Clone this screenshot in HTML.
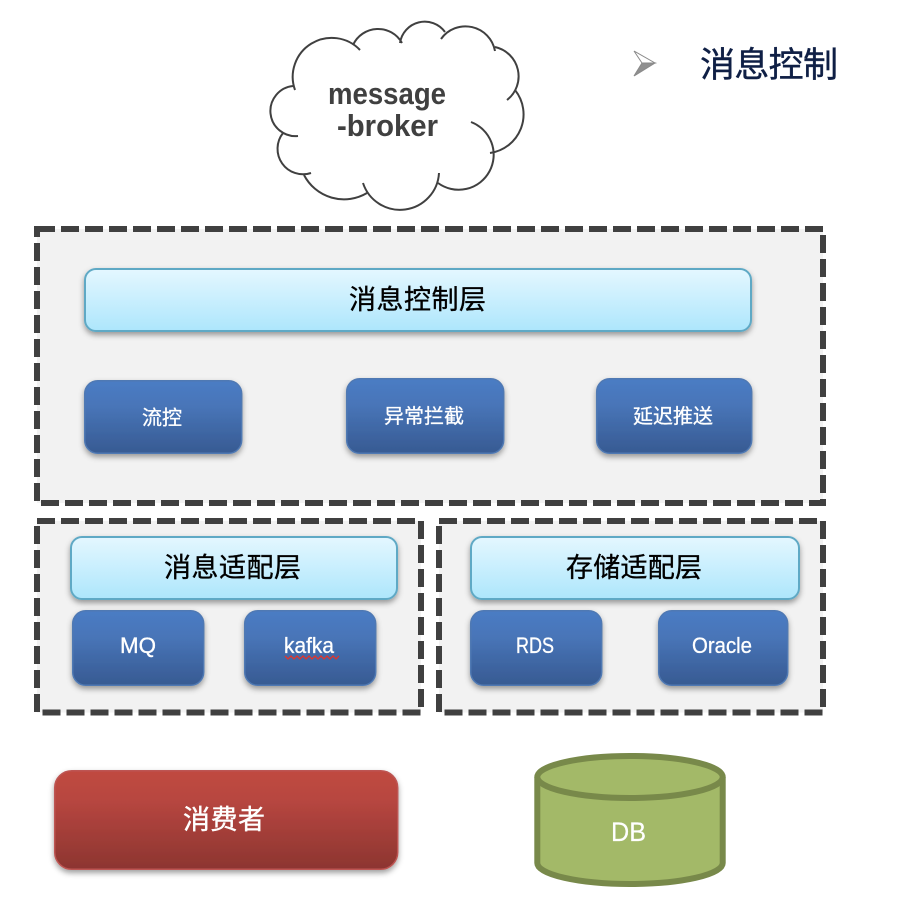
<!DOCTYPE html>
<html><head><meta charset="utf-8"><style>
html,body{margin:0;padding:0;background:#fff}
svg{display:block}
text{font-family:"Liberation Sans","Noto Sans CJK SC",sans-serif;text-anchor:start}
.k{fill:#000;stroke:#000;stroke-width:.35px;font-size:27px}
.b{fill:#fff;stroke:#fff;stroke-width:.3px;font-size:20px}
.l{fill:#fff;stroke:#fff;stroke-width:.3px;font-size:22px}
</style></head><body>
<svg width="920" height="898" viewBox="0 0 920 898" xmlns="http://www.w3.org/2000/svg">
<defs>
<linearGradient id="lb" x1="0" y1="0" x2="0" y2="1"><stop offset="0" stop-color="#e4f7ff"/><stop offset="1" stop-color="#ade6fc"/></linearGradient>
<linearGradient id="bl" x1="0" y1="0" x2="0" y2="1"><stop offset="0" stop-color="#4b7cc4"/><stop offset=".35" stop-color="#4875b8"/><stop offset="1" stop-color="#375a92"/></linearGradient>
<linearGradient id="rd" x1="0" y1="0" x2="0" y2="1"><stop offset="0" stop-color="#c04a40"/><stop offset=".3" stop-color="#b74640"/><stop offset="1" stop-color="#8c3530"/></linearGradient>
<filter id="s" x="-10%" y="-20%" width="120%" height="150%"><feDropShadow dx="0" dy="3" stdDeviation="3" flood-color="#000" flood-opacity=".38"/></filter>
</defs>
<rect width="920" height="898" fill="#fff"/>

<!-- cloud -->
<g fill="none" stroke="#404040" stroke-width="2">
<path d="M295 90A39 39 0 0 1 360 50"/>
<path d="M353 45A27.5 27.5 0 0 1 402 43"/>
<path d="M400 43A25 25 0 0 1 445 32"/>
<path d="M441 39A30 30 0 0 1 495 51"/>
<path d="M495 47A30 30 0 0 1 507 100"/>
<path d="M515 90A39 39 0 0 1 490 153"/>
<path d="M471 122A35 35 0 1 1 438 183"/>
<path d="M439 173A39 39 0 0 1 363 183"/>
<path d="M367 193A45 45 0 0 1 304 175"/>
<path d="M311 173A25.5 25.5 0 0 1 283 133"/>
<path d="M298 136A25.1 25.1 0 0 1 293 86"/>
</g>
<text x="328" y="104" font-size="31" font-weight="700" fill="#404040" textLength="118" lengthAdjust="spacingAndGlyphs">message</text>
<text x="337" y="136" font-size="31" font-weight="700" fill="#404040" textLength="101" lengthAdjust="spacingAndGlyphs">-broker</text>

<!-- title -->
<path d="M634 51L655 63L642 63Z" fill="#fff" stroke="#8a8a8a" stroke-width="1"/>
<path d="M634 76L655 63L642 63Z" fill="#8f8f8f" stroke="#8a8a8a" stroke-width="1"/>
<text x="700" y="77" font-size="35" fill="#0f1f45" stroke="#0f1f45" stroke-width=".4" textLength="138">消息控制</text>

<!-- dashed containers -->
<g fill="#f2f2f2" stroke="#404040" stroke-width="6" stroke-dasharray="18 6">
<path d="M37 229H823V503H37Z"/>
<path d="M37 521H421V712.5H37Z"/>
<path d="M439 521H823V712.5H439Z"/>
</g>

<!-- light boxes -->
<g fill="url(#lb)" stroke="#5fa9c5" stroke-width="2" filter="url(#s)">
<rect x="85" y="269" width="666" height="62" rx="11"/>
<rect x="71" y="537" width="326" height="62" rx="11"/>
<rect x="471" y="537" width="328" height="62" rx="11"/>
</g>

<!-- blue boxes -->
<g fill="url(#bl)" stroke="#5079b3" stroke-width="1.5" filter="url(#s)">
<rect x="84.7" y="380.7" width="157" height="72.6" rx="13"/>
<rect x="346.7" y="378.7" width="157" height="74.6" rx="13"/>
<rect x="596.7" y="378.7" width="155" height="74.6" rx="13"/>
<rect x="72.7" y="610.7" width="131" height="74.6" rx="13"/>
<rect x="244.7" y="610.7" width="131" height="74.6" rx="13"/>
<rect x="470.7" y="610.7" width="131" height="74.6" rx="13"/>
<rect x="658.7" y="610.7" width="129" height="74.6" rx="13"/>
</g>

<!-- consumer -->
<rect x="54.7" y="770.7" width="343" height="98.6" rx="17" fill="url(#rd)" stroke="#bd5552" stroke-width="1.5" filter="url(#s)"/>

<!-- DB -->
<path d="M537.3 777V863A92.7 21 0 0 0 722.7 863V777" fill="#a3b968" stroke="#78894a" stroke-width="6"/>
<ellipse cx="630" cy="777" rx="92.7" ry="21" fill="#a3b968" stroke="#78894a" stroke-width="6"/>

<!-- labels -->
<text class="k" x="349" y="309" textLength="137">消息控制层</text>
<text class="b" x="142" y="424.6" textLength="40">流控</text>
<text class="b" x="384" y="423" textLength="80">异常拦截</text>
<text class="b" x="633" y="423" textLength="80">延迟推送</text>
<text class="k" x="164" y="577" textLength="137">消息适配层</text>
<text class="k" x="566" y="577" textLength="136">存储适配层</text>
<text class="l" x="120" y="653" textLength="36" lengthAdjust="spacingAndGlyphs">MQ</text>
<text class="l" x="284" y="653" textLength="50" lengthAdjust="spacingAndGlyphs">kafka</text>
<polyline points="285,656 288,659 291,656 294,659 297,656 300,659 303,656 306,659 309,656 312,659 315,656 318,659 321,656 324,659 327,656 330,659 333,656 336,659 339,656" fill="none" stroke="#e2342a" stroke-width="1.3"/>
<text class="l" x="516" y="653" textLength="38" lengthAdjust="spacingAndGlyphs">RDS</text>
<text class="l" x="692" y="653" textLength="60" lengthAdjust="spacingAndGlyphs">Oracle</text>
<text x="183" y="829" font-size="27" fill="#fff" stroke="#fff" stroke-width=".4" textLength="82">消费者</text>
<text x="611" y="841" font-size="27" fill="#fff" stroke="#fff" stroke-width=".2" textLength="35" lengthAdjust="spacingAndGlyphs">DB</text>
</svg>
</body></html>
